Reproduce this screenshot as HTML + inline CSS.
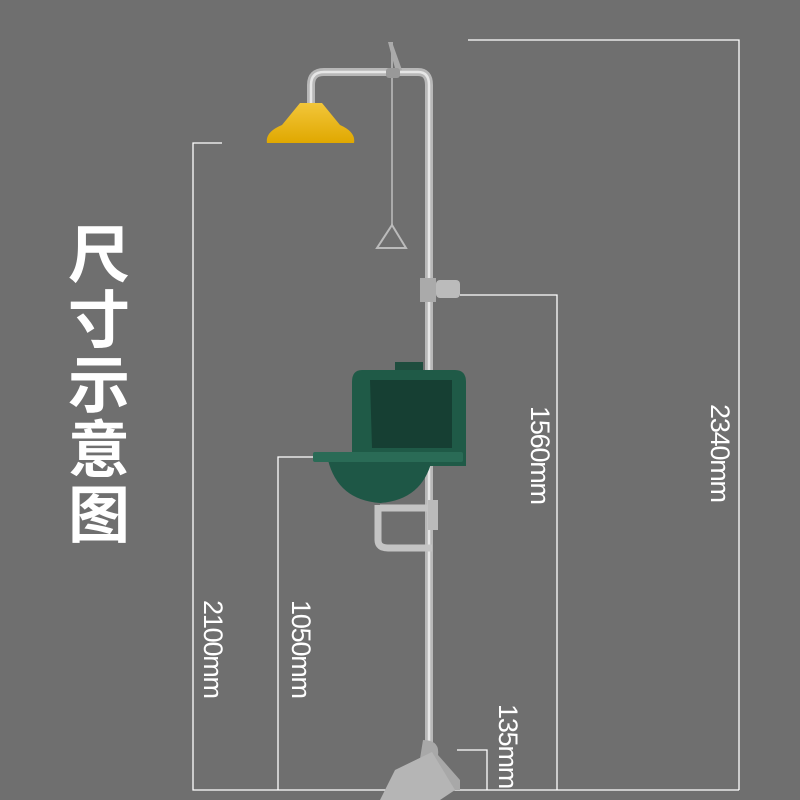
<!DOCTYPE html><html><head><style>
body{margin:0;width:800px;height:800px;background:#6f6f6f;overflow:hidden;position:relative;font-family:"Liberation Sans",sans-serif}
.t{position:absolute;color:#fff;font-size:27px;transform-origin:0 0;transform:rotate(90deg);white-space:nowrap;letter-spacing:-1.2px}
.title{position:absolute;left:64px;top:218px;width:70px;color:#fff;font:bold 62px/65px "Noto Sans CJK SC",sans-serif;text-align:center}
</style></head><body>
<svg width="800" height="800" style="position:absolute;left:0;top:0">
<defs><linearGradient id="y" x1="0" y1="0" x2="0" y2="1"><stop offset="0" stop-color="#f2c63a"/><stop offset="1" stop-color="#e0a800"/></linearGradient></defs>
<g stroke="#fff" stroke-width="1.3" fill="none">
<polyline points="468,40 739,40 739,790"/>
<polyline points="460,295 557,295 557,790"/>
<polyline points="222,143 193,143 193,790 739,790"/>
<polyline points="345,457 278,457 278,790"/>
<polyline points="457,750 487,750 487,790"/>
</g>
<path d="M311,110 V85 Q311,72 324,72 H418 Q429,72 429,85 V760" stroke="#b8b8b8" stroke-width="8" fill="none"/>
<path d="M311,110 V85 Q311,72 324,72 H418 Q429,72 429,85 V760" stroke="#e6e6e6" stroke-width="2.5" fill="none"/>
<path d="M388,42 L392,42 L402,70 L396,72Z" fill="#aaa"/>
<line x1="392" y1="42" x2="392" y2="225" stroke="#aaa" stroke-width="2"/>
<path d="M392,225 L377,248 H406Z" stroke="#bbb" stroke-width="2" fill="none"/>
<rect x="386" y="68" width="14" height="10" rx="3" fill="#999"/>
<path d="M300,103 H322 L340,125 Q356,132 354,143 H267 Q265,132 282,125Z" fill="url(#y)"/>
<rect x="420" y="278" width="16" height="24" fill="#aaa"/>
<rect x="436" y="280" width="24" height="18" rx="4" fill="#bbb"/>
<rect x="395" y="362" width="28" height="10" fill="#1f4d3e"/>
<path d="M362,370 H455 Q466,370 466,382 V466 H352 V382 Q352,370 362,370Z" fill="#1f5a47"/>
<path d="M370,380 H452 V448 H372Z" fill="#163f33"/>
<path d="M328,460 H432 Q422,500 380,503 Q338,500 328,460Z" fill="#1e5746"/>
<rect x="313" y="452" width="150" height="10" rx="2" fill="#2a6b56"/>
<path d="M378,505 V540 Q378,548 388,548 H432 M380,508 H430" stroke="#c4c4c4" stroke-width="7" fill="none"/>
<rect x="428" y="500" width="10" height="30" fill="#bbb"/>
<path d="M423,740 Q440,740 438,755 L460,780 V790 H415Z" fill="#a8a8a8"/>
<path d="M432,752 L455,790 L440,800 H380 L395,770 Z" fill="#b5b5b5"/>
</svg>
<div class="title">尺<br>寸<br>示<br>意<br>图</div>
<div class="t" style="left:735px;top:404px">2340mm</div>
<div class="t" style="left:555px;top:406px">1560mm</div>
<div class="t" style="left:228px;top:600px">2100mm</div>
<div class="t" style="left:316px;top:600px">1050mm</div>
<div class="t" style="left:523px;top:704px">135mm</div>
</body></html>
